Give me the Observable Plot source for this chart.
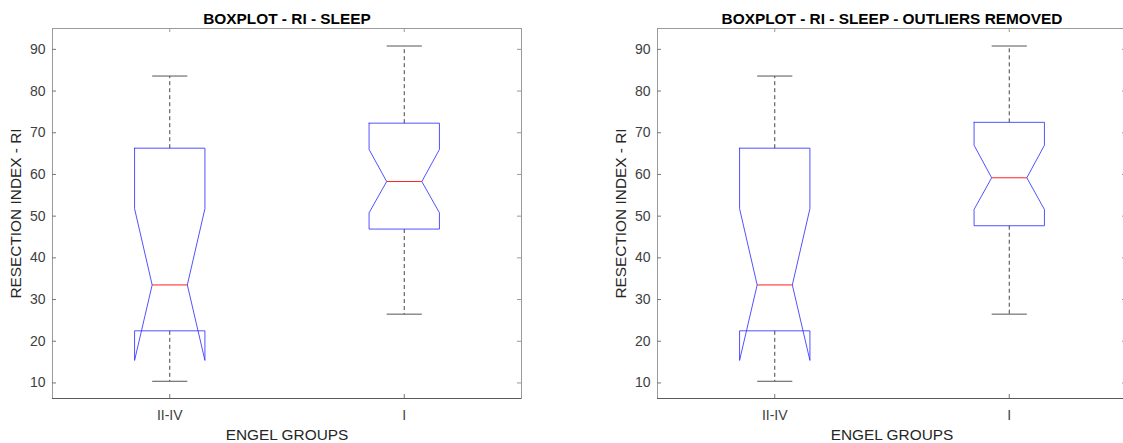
<!DOCTYPE html>
<html>
<head>
<meta charset="utf-8">
<script src="https://cdn.jsdelivr.net/npm/d3@7"></script>
<script src="https://cdn.jsdelivr.net/npm/@observablehq/plot@0.6"></script>
<style>
  html, body { margin: 0; padding: 0; background: #fff; overflow: hidden; }
  #wrap { position: relative; width: 1123px; height: 443px; overflow: hidden; background: #fff; }
  #wrap svg { position: absolute; top: 0; }
</style>
</head>
<body>
<div id="wrap"></div>
<script>
// Engel outcome groups (x categories, left to right)
const groups = ["II-IV", "I"];
const yTicks = [10, 20, 30, 40, 50, 60, 70, 80, 90];

// Resection index during sleep, all patients
const allUpper   = [83.6, 90.8];
const allQ3      = [66.3, 72.3];
const allNotchHi = [51.8, 66.0];
const allMedian  = [33.5, 58.3];
const allNotchLo = [15.4, 50.8];
const allQ1      = [22.5, 46.9];
const allLower   = [10.4, 26.5];

// Resection index during sleep, outliers removed
const cleanUpper   = [83.6, 90.8];
const cleanQ3      = [66.3, 72.5];
const cleanNotchHi = [51.8, 67.0];
const cleanMedian  = [33.5, 59.2];
const cleanNotchLo = [15.4, 51.6];
const cleanQ1      = [22.5, 47.7];
const cleanLower   = [10.4, 26.5];

const FONT = "'Liberation Sans', Arial, Helvetica, sans-serif";
const W = 605, H = 443;
const mL = 52, mR = 84, mT = 28, mB = 45;
const frameW = W - mL - mR, frameH = H - mT - mB;
const boxHalf = 0.15, notchHalf = 0.075, tickLen = 4;

function statsRows(upper, q3, nHi, med, nLo, q1, lower) {
  return groups.map((g, i) => ({
    g, c: i + 1, upper: upper[i], q3: q3[i], nHi: nHi[i],
    med: med[i], nLo: nLo[i], q1: q1[i], lower: lower[i]
  }));
}

// Notched box outline: MATLAB-style path (notch may extend past the quartiles)
function outline(rows) {
  const pts = [];
  for (const r of rows) {
    const L = r.c - boxHalf, R = r.c + boxHalf;
    const Ln = r.c - notchHalf, Rn = r.c + notchHalf;
    [[L, r.q3], [R, r.q3], [R, r.nHi], [Rn, r.med], [R, r.nLo], [R, r.q1],
     [L, r.q1], [L, r.nLo], [Ln, r.med], [L, r.nHi], [L, r.q3]]
      .forEach(([x, y]) => pts.push({g: r.g, x, y}));
  }
  return pts;
}

function panel(title, rows) {
  return Plot.plot({
    width: W, height: H,
    marginLeft: mL, marginRight: mR, marginTop: mT, marginBottom: mB,
    style: {fontFamily: FONT, background: "transparent", overflow: "visible"},
    x: {domain: [0.5, 2.5], axis: null},
    y: {domain: [6.27, 95], axis: null},
    marks: [
      Plot.frame({stroke: "#9a9a9a", strokeWidth: 1}),
      Plot.ruleY([6.27], {stroke: "#5a5a5a", strokeWidth: 1}),
      // inward tick marks on all four sides
      Plot.ruleY(yTicks, {y: d => d, insetRight: frameW - tickLen, stroke: "#777"}),
      Plot.ruleY(yTicks, {y: d => d, insetLeft: frameW - tickLen, stroke: "#999"}),
      Plot.ruleX([1, 2], {x: d => d, insetTop: frameH - tickLen, stroke: "#777"}),
      Plot.ruleX([1, 2], {x: d => d, insetBottom: frameH - tickLen, stroke: "#999"}),
      Plot.axisY(yTicks, {tickSize: 0, tickPadding: 7, fontSize: 14, fill: "#404040", tickFormat: d => d}),
      Plot.axisX([1, 2], {tickSize: 0, tickPadding: 12, fontSize: 14, fill: "#404040",
        tickFormat: d => groups[d - 1], label: null}),
      // whiskers (dashed) and caps
      Plot.link(rows, {x1: "c", x2: "c", y1: "q3", y2: "upper", stroke: "#444",
        strokeWidth: 1, strokeDasharray: "4,3"}),
      Plot.link(rows, {x1: "c", x2: "c", y1: "q1", y2: "lower", stroke: "#444",
        strokeWidth: 1, strokeDasharray: "4,3"}),
      Plot.link(rows, {x1: d => d.c - notchHalf, x2: d => d.c + notchHalf, y1: "upper", y2: "upper",
        stroke: "#555", strokeWidth: 1}),
      Plot.link(rows, {x1: d => d.c - notchHalf, x2: d => d.c + notchHalf, y1: "lower", y2: "lower",
        stroke: "#555", strokeWidth: 1}),
      // notched boxes
      Plot.line(outline(rows), {x: "x", y: "y", z: "g", stroke: "#3434ff", strokeWidth: 1,
        strokeOpacity: 0.85, curve: "linear"}),
      // medians
      Plot.link(rows, {x1: d => d.c - notchHalf, x2: d => d.c + notchHalf, y1: "med", y2: "med",
        stroke: "#ff2020", strokeWidth: 1}),
      // title and axis labels
      Plot.text([title], {frameAnchor: "top", dy: -4.7, lineAnchor: "bottom", fontSize: 15.4,
        fontWeight: "bold", fill: "#000"}),
      Plot.text(["ENGEL GROUPS"], {frameAnchor: "bottom", dy: 41.3, lineAnchor: "bottom",
        fontSize: 15.4, fill: "#262626"}),
      Plot.text(["RESECTION INDEX - RI"], {frameAnchor: "left", dx: -36, rotate: -90,
        textAnchor: "middle", lineAnchor: "middle", fontSize: 15.4, fill: "#262626"})
    ]
  });
}

const wrap = document.getElementById("wrap");
const a = panel("BOXPLOT - RI - SLEEP",
  statsRows(allUpper, allQ3, allNotchHi, allMedian, allNotchLo, allQ1, allLower));
a.style.left = "0px";
const b = panel("BOXPLOT - RI - SLEEP - OUTLIERS REMOVED",
  statsRows(cleanUpper, cleanQ3, cleanNotchHi, cleanMedian, cleanNotchLo, cleanQ1, cleanLower));
b.style.left = "605px";
wrap.append(a, b);
</script>
</body>
</html>
